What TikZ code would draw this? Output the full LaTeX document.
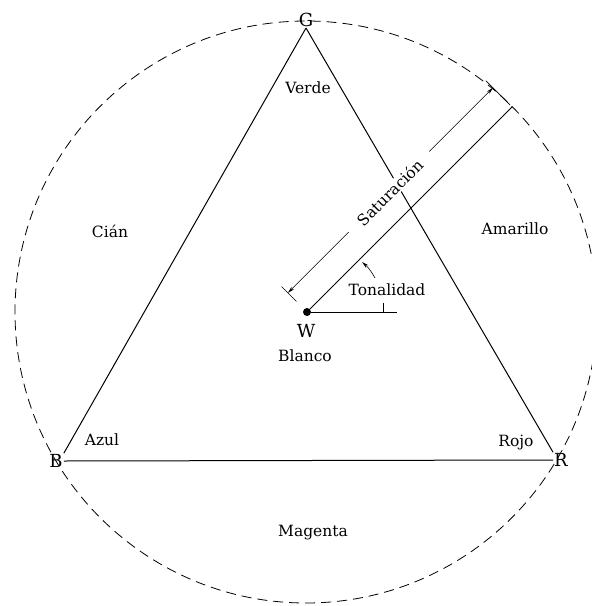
\documentclass[tikz,border=0pt]{standalone}
\usepackage{fontspec}
\setmainfont{DejaVu Serif}
\usetikzlibrary{arrows.meta,calc}
\begin{document}
\begin{tikzpicture}[x=1pt,y=-1pt,
  lbl/.style={font=\fontsize{15.5}{17}\selectfont, inner sep=0pt, text=black},
  vtx/.style={font=\fontsize{18}{20}\selectfont, inner sep=1pt, text=black},
  edgeline/.style={line width=1pt},
  dimline/.style={line width=0.6pt},
  tipline/.style={-{Stealth[length=7pt,width=3.5pt]}}]
\useasboundingbox (0,0) rectangle (592,606);
\draw[line width=0.8pt, dash pattern=on 10pt off 6pt] (306,312) circle[radius=291];
\node[vtx] (G) at (306,20) {G};
\node[vtx] (B) at (56,461) {B};
\node[vtx] (R) at (561,460) {R};
\draw[edgeline] (G.south) -- (B.north east);
\draw[edgeline] (B.east) -- (R.west);
\draw[edgeline] (R.north west) -- (G.south);
\node[circle, fill, inner sep=0pt, minimum size=8pt] (W) at (307,312) {};
\node[vtx] (Wl) at (306,331) {W};
\node[lbl] (blanco) at (305,356) {Blanco};
\node[lbl] (verde) at (308,88) {Verde};
\node[lbl] (cian) at (110,231) {Cián};
\node[lbl] (amarillo) at (515,229) {Amarillo};
\node[lbl] (azul) at (102,440) {Azul};
\node[lbl] (rojo) at (516,443) {Rojo};
\node[lbl] (magenta) at (313,533) {Magenta};
\begin{scope}[shift={(307,312)}, rotate=45]
  \coordinate (S) at (290,0);
  \coordinate (e1a) at (0,-15); \coordinate (e1b) at (0,-36);
  \coordinate (e2a) at (290,-3); \coordinate (e2b) at (290,-37);
  \coordinate (d1) at (0,-27); \coordinate (d1g) at (86,-27);
  \coordinate (d2g) at (200,-27); \coordinate (d2) at (290,-27);
  \node[lbl, rotate=45, fill=white, inner xsep=2pt, inner ysep=1pt] (sat) at (143,-26) {Saturación};
\end{scope}
\draw[edgeline] (W) -- (S);
\draw[dimline] (e1a) -- (e1b);
\draw[dimline] (e2a) -- (e2b);
\draw[dimline, tipline] (d1g) -- (d1);
\draw[dimline, tipline] (d2g) -- (d2);
\node[lbl] (ton) at (387,290) {Tonalidad};
\coordinate (hr) at (397,312);
\draw[dimline] (W) -- (hr);
\coordinate (tk1) at (383,303); \coordinate (tk2) at (383,312);
\draw[dimline] (tk1) -- (tk2);
\coordinate (ta) at (375,278); \coordinate (tb) at (362,262);
\draw[dimline, tipline] (ta) to[bend right=10] (tb);
\end{tikzpicture}
\end{document}
